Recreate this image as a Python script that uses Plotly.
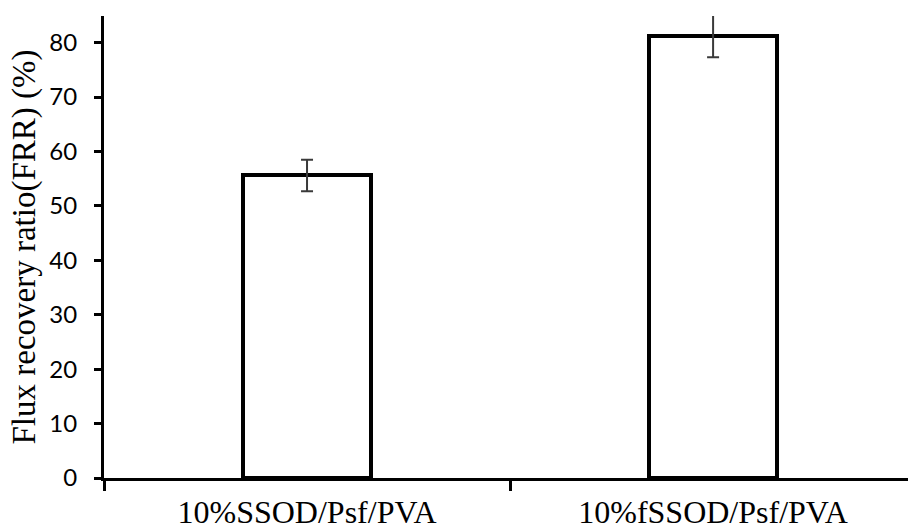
import plotly.graph_objects as go

# Membrane samples and their flux recovery ratio (%)
categories = ["10%SSOD/Psf/PVA", "10%fSSOD/Psf/PVA"]
frr_values = [55.6, 81.2]
frr_errors = [2.9, 3.9]
y_ticks = [0, 10, 20, 30, 40, 50, 60, 70, 80]

SERIF = "Liberation Serif"

fig = go.Figure()

fig.add_trace(go.Bar(
    x=categories,
    y=frr_values,
    width=0.316,
    marker=dict(color="white", line=dict(color="black", width=4)),
    error_y=dict(type="data", array=frr_errors, visible=True,
                 color="#3a3a3a", thickness=2, width=6),
    showlegend=False,
))

fig.update_layout(
    width=908,
    height=531,
    margin=dict(l=104, r=0, t=16, b=53),
    paper_bgcolor="white",
    plot_bgcolor="white",
    bargap=0,
)

fig.update_xaxes(
    type="category",
    range=[-0.5, 1.48],
    automargin=False,
    showline=True,
    linecolor="black",
    linewidth=3,
    ticks="outside",
    tickson="boundaries",
    ticklen=10,
    tickwidth=3,
    tickcolor="black",
    showgrid=False,
    zeroline=False,
    tickfont=dict(family=SERIF, size=32, color="black"),
    ticklabelstandoff=4,
)

fig.update_yaxes(
    range=[0, 84.9],
    automargin=False,
    tickvals=y_ticks,
    showline=True,
    linecolor="black",
    linewidth=3,
    ticks="outside",
    ticklen=7,
    tickwidth=3,
    tickcolor="black",
    showgrid=False,
    zeroline=False,
    tickfont=dict(family="Lato", size=24, color="black"),
    ticklabelstandoff=12,
    title=dict(text="Flux recovery ratio(FRR) (%)",
               font=dict(family=SERIF, size=33, color="black"),
               standoff=4),
)

fig.write_html("out.html")
